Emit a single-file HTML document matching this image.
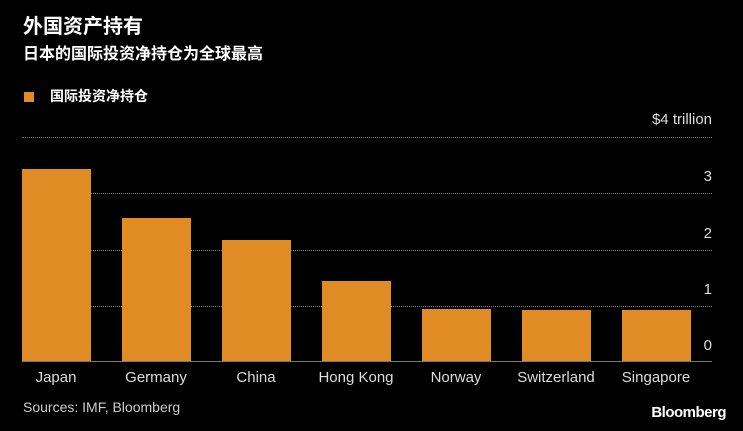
<!DOCTYPE html>
<html><head><meta charset="utf-8"><style>
body{margin:0;width:743px;height:431px;background:#000;position:relative;overflow:hidden;font-family:"Liberation Sans","Noto Sans CJK SC",sans-serif;color:#fff}
.a{position:absolute;white-space:nowrap}
.g{position:absolute;left:22px;width:690px;border-top:1px dotted #777;height:0}
.b{position:absolute;width:69px;background:#e08b23}
.y{position:absolute;right:31px;font-size:15px;color:#ddd}
.x{position:absolute;top:369px;font-size:15px;color:#ddd;width:110px;text-align:center}
</style></head><body>
<div class="a" style="left:23px;top:10px;font-size:20px;font-weight:bold">外国资产持有</div>
<div class="a" style="left:23px;top:40px;font-size:16px;font-weight:bold">日本的国际投资净持仓为全球最高</div>
<div class="a" style="left:24px;top:92px;width:10px;height:10px;background:#e08b23"></div>
<div class="a" style="left:50px;top:86px;font-size:14px;font-weight:bold">国际投资净持仓</div>
<div class="g" style="top:137px"></div>
<div class="g" style="top:193px"></div>
<div class="g" style="top:250px"></div>
<div class="g" style="top:306px"></div>
<div class="a" style="left:22px;top:361px;width:690px;height:1px;background:#777"></div>
<div class="y" style="top:111px">$4 trillion</div>
<div class="y" style="top:168px">3</div>
<div class="y" style="top:225px">2</div>
<div class="y" style="top:281px">1</div>
<div class="y" style="top:337px">0</div>
<div class="b" style="left:22px;top:169px;height:192px"></div>
<div class="b" style="left:122px;top:218px;height:143px"></div>
<div class="b" style="left:222px;top:240px;height:121px"></div>
<div class="b" style="left:322px;top:281px;height:80px"></div>
<div class="b" style="left:422px;top:309px;height:52px"></div>
<div class="b" style="left:522px;top:310px;height:51px"></div>
<div class="b" style="left:622px;top:310px;height:51px"></div>
<div class="x" style="left:1px">Japan</div>
<div class="x" style="left:101px">Germany</div>
<div class="x" style="left:201px">China</div>
<div class="x" style="left:301px">Hong Kong</div>
<div class="x" style="left:401px">Norway</div>
<div class="x" style="left:501px">Switzerland</div>
<div class="x" style="left:601px">Singapore</div>
<div class="a" style="left:23px;top:399px;font-size:14px;color:#ccc">Sources: IMF, Bloomberg</div>
<div class="a" style="right:17px;top:404px;font-size:15px;font-weight:bold;letter-spacing:-0.5px">Bloomberg</div>
</body></html>
